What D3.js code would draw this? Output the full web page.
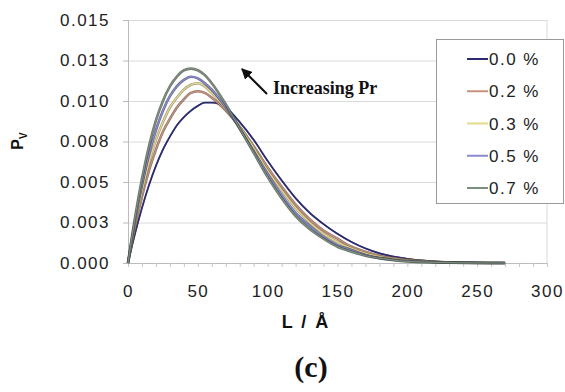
<!DOCTYPE html>
<html>
<head>
<meta charset="utf-8">
<script src="https://cdn.jsdelivr.net/npm/d3@7"></script>
<style>
  body { margin: 0; background: #fff; }
  svg { display: block; }
  .tick-label { font-family: "Liberation Sans", Arial, sans-serif; font-size: 17px; letter-spacing: 1.5px; fill: #222; }
</style>
</head>
<body>
<div id="chart"></div>
<script>
// L values (Angstrom) shared by every curve
var lengths = [0, 5, 10, 15, 20, 25, 30, 35, 40, 45, 50, 55, 60, 70, 80, 90, 100, 110, 120, 130, 140, 150, 160, 170, 180, 190, 200, 220, 240, 260, 270];

// Pv for each Pr content
var pr00 = [0, 0.0018, 0.0034, 0.0048, 0.0060, 0.0070, 0.0078, 0.0085, 0.0090, 0.0094, 0.0097, 0.0099, 0.0099, 0.0096, 0.0087, 0.0076, 0.0063, 0.0051, 0.0040, 0.0031, 0.0024, 0.0018, 0.0013, 0.0009, 0.0006, 0.0004, 0.00026, 0.0001, 0.00004, 0.00001, 0];
var pr02 = [0, 0.0022, 0.0041, 0.0057, 0.0070, 0.0081, 0.0089, 0.0096, 0.0101, 0.0105, 0.0106, 0.0105, 0.0102, 0.0094, 0.0084, 0.0072, 0.0059, 0.0047, 0.0036, 0.0027, 0.0020, 0.0015, 0.0010, 0.0007, 0.00045, 0.0003, 0.0002, 0.00008, 0.00003, 0.00001, 0];
var pr03 = [0, 0.0024, 0.0044, 0.0062, 0.0076, 0.0087, 0.0096, 0.0102, 0.0107, 0.0110, 0.0111, 0.0109, 0.0105, 0.0095, 0.0084, 0.0071, 0.0057, 0.0045, 0.0034, 0.0025, 0.0018, 0.0013, 0.0009, 0.0006, 0.0004, 0.00025, 0.00016, 0.00006, 0.00002, 0, 0];
var pr05 = [0, 0.0026, 0.0048, 0.0067, 0.0082, 0.0094, 0.0103, 0.0109, 0.0113, 0.0115, 0.0114, 0.0111, 0.0107, 0.0096, 0.0083, 0.0069, 0.0055, 0.0042, 0.0031, 0.0023, 0.0016, 0.0011, 0.0008, 0.0005, 0.0003, 0.0002, 0.00012, 0.00005, 0.00002, 0, 0];
var pr07 = [0, 0.0028, 0.0052, 0.0072, 0.0088, 0.0100, 0.0109, 0.0115, 0.0119, 0.0120, 0.0119, 0.0116, 0.0111, 0.0098, 0.0083, 0.0068, 0.0053, 0.0040, 0.0029, 0.0021, 0.0015, 0.0010, 0.0007, 0.00045, 0.0003, 0.00018, 0.0001, 0.00004, 0.00001, 0, 0];

var seriesNames = ["0.0 %", "0.2 %", "0.3 %", "0.5 %", "0.7 %"];
var seriesValues = [pr00, pr02, pr03, pr05, pr07];
var seriesColors = ["#2a2a72", "#c8907a", "#e2dc8c", "#8a8ad0", "#7d8f7d"];
var outlineColors = ["#1c1c50", "#6e4a40", "#8a7a50", "#3a3a6a", "#3e4a3e"];

// axis ticks
var xTickValues = [0, 50, 100, 150, 200, 250, 300];
var yTickValues = [0, 0.0025, 0.005, 0.0075, 0.01, 0.0125, 0.015];
var yTickLabels = ["0.000", "0.003", "0.005", "0.008", "0.010", "0.013", "0.015"];

var width = 565, height = 392;
var plot = { left: 128, right: 547, top: 20, bottom: 263 };

var svg = d3.select("#chart").append("svg")
  .attr("width", width)
  .attr("height", height);

var x = d3.scaleLinear().domain([0, 300]).range([plot.left, plot.right]);
var y = d3.scaleLinear().domain([0, 0.015]).range([plot.bottom, plot.top]);

// horizontal gridlines
svg.append("g")
  .attr("transform", "translate(" + plot.left + ",0)")
  .call(d3.axisLeft(y).tickValues(yTickValues).tickSize(-(plot.right - plot.left)).tickFormat(""))
  .call(function(g) {
    g.select(".domain").remove();
    g.selectAll("line").attr("stroke", "#dadada");
  });

// right frame line
svg.append("line")
  .attr("x1", plot.right).attr("x2", plot.right)
  .attr("y1", plot.top).attr("y2", plot.bottom)
  .attr("stroke", "#dadada");

// y axis with the rounded labels
var yAxis = svg.append("g")
  .attr("transform", "translate(" + plot.left + ",0)")
  .call(d3.axisLeft(y).tickValues(yTickValues).tickSize(5).tickPadding(13)
    .tickFormat(function(d, i) { return yTickLabels[i]; }));
yAxis.select(".domain").attr("stroke", "#bbb");
yAxis.selectAll("line").attr("stroke", "#bbb");
yAxis.selectAll("text").attr("class", "tick-label").attr("font-size", null).attr("font-family", null);

// x axis: minor ticks every 10, labels every 50
var xMinor = svg.append("g")
  .attr("transform", "translate(0," + plot.bottom + ")")
  .call(d3.axisBottom(x).tickValues(d3.range(0, 301, 10)).tickSize(4).tickFormat(""));
xMinor.select(".domain").attr("stroke", "#bbb");
xMinor.selectAll("line").attr("stroke", "#c8c8c8");

var xAxis = svg.append("g")
  .attr("transform", "translate(0," + plot.bottom + ")")
  .call(d3.axisBottom(x).tickValues(xTickValues).tickSize(0).tickPadding(22).tickFormat(d3.format("d")));
xAxis.select(".domain").remove();
xAxis.selectAll("text").attr("class", "tick-label").attr("font-size", null).attr("font-family", null);

// curves: dark outline under a lighter stroke
var line = d3.line()
  .x(function(d) { return x(d[0]); })
  .y(function(d) { return y(d[1]); })
  .curve(d3.curveMonotoneX);

seriesValues.forEach(function(vals, i) {
  var pts = lengths.map(function(l, j) { return [l, vals[j]]; });
  svg.append("path").datum(pts)
    .attr("d", line).attr("fill", "none")
    .attr("stroke", outlineColors[i]).attr("stroke-width", i === 0 ? 1.8 : 2.6).attr("stroke-opacity", 0.75);
  svg.append("path").datum(pts)
    .attr("d", line).attr("fill", "none")
    .attr("stroke", seriesColors[i]).attr("stroke-width", i === 0 ? 1.4 : 1.2);
});

// legend
var legend = svg.append("g");
legend.append("rect")
  .attr("x", 436.5).attr("y", 39.5).attr("width", 127).attr("height", 164)
  .attr("fill", "#fff").attr("stroke", "#999");
var legendY = d3.scalePoint().domain(seriesNames).range([59, 188]);
seriesNames.forEach(function(name, i) {
  legend.append("line")
    .attr("x1", 467).attr("x2", 488)
    .attr("y1", legendY(name)).attr("y2", legendY(name))
    .attr("stroke", seriesColors[i]).attr("stroke-width", 2);
  legend.append("text")
    .attr("class", "tick-label")
    .attr("x", 489).attr("y", legendY(name) + 6)
    .text(name);
});

// annotation arrow and text
svg.append("defs").append("marker")
  .attr("id", "head").attr("viewBox", "0 0 10 10")
  .attr("refX", 9).attr("refY", 5)
  .attr("markerWidth", 5).attr("markerHeight", 5)
  .attr("orient", "auto")
  .append("path").attr("d", "M0,0 L10,5 L0,10 Z").attr("fill", "#111");
svg.append("line")
  .attr("x1", 267).attr("y1", 94).attr("x2", 242).attr("y2", 69)
  .attr("stroke", "#111").attr("stroke-width", 2.2)
  .attr("marker-end", "url(#head)");
svg.append("text")
  .attr("x", 273).attr("y", 94)
  .attr("font-family", "'Liberation Serif', 'Times New Roman', serif")
  .attr("font-weight", "bold").attr("font-size", 18)
  .attr("fill", "#111")
  .text("Increasing Pr");

// axis titles
svg.append("text")
  .attr("x", 306).attr("y", 328)
  .attr("text-anchor", "middle")
  .attr("font-family", "'Liberation Sans', Arial, sans-serif")
  .attr("font-weight", "bold").attr("font-size", 18)
  .attr("letter-spacing", "2px")
  .attr("fill", "#111")
  .text("L / Å");

var yTitle = svg.append("text")
  .attr("transform", "translate(23,141) rotate(-90)")
  .attr("text-anchor", "middle")
  .attr("font-family", "'Liberation Sans', Arial, sans-serif")
  .attr("font-weight", "bold").attr("font-size", 16)
  .attr("fill", "#111");
yTitle.append("tspan").text("P");
yTitle.append("tspan").attr("font-size", 10).attr("dy", 4).text("V");

// panel label
svg.append("text")
  .attr("x", 311).attr("y", 377)
  .attr("text-anchor", "middle")
  .attr("font-family", "'Liberation Serif', 'Times New Roman', serif")
  .attr("font-weight", "bold").attr("font-size", 30)
  .attr("fill", "#111")
  .text("(c)");
</script>
</body>
</html>
